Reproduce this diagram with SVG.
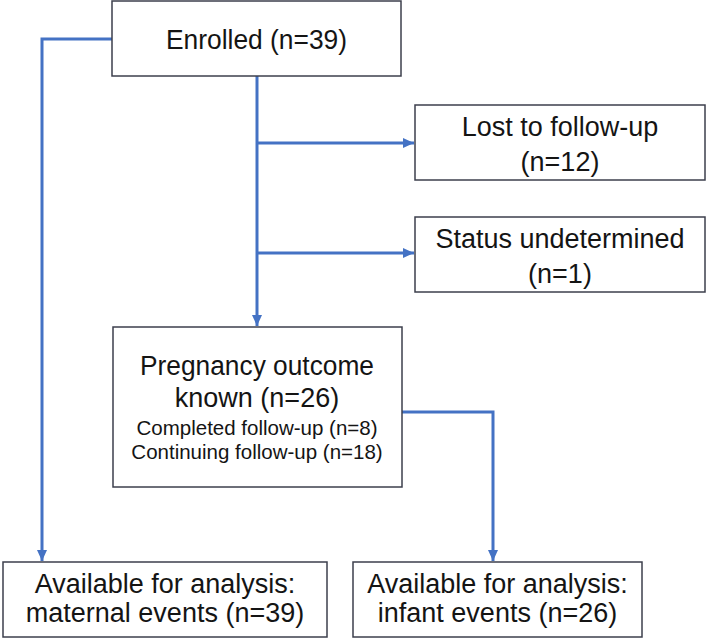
<svg xmlns="http://www.w3.org/2000/svg" width="707" height="640" viewBox="0 0 707 640">
<style>
.box{fill:#ffffff;stroke:#3c3f4c;stroke-width:1.5}
.t{font-family:"Liberation Sans",Arial,sans-serif;font-size:27px;fill:#141414;text-anchor:middle}
.s{font-family:"Liberation Sans",Arial,sans-serif;font-size:20.5px;fill:#141414;text-anchor:middle}
.c{fill:none;stroke:#4472C4;stroke-width:3}
</style>
<defs>
<marker id="arr" markerUnits="userSpaceOnUse" markerWidth="11" markerHeight="10" refX="11" refY="5" orient="auto">
<path d="M0,0 L11,5 L0,10 z" fill="#4472C4"/>
</marker>
</defs>
<rect width="707" height="640" fill="#ffffff"/>
<g id="connectors">
<path class="c" d="M112,39 H42 V561" marker-end="url(#arr)"/>
<path class="c" d="M257,76 V326" marker-end="url(#arr)"/>
<path class="c" d="M257,143 H414" marker-end="url(#arr)"/>
<path class="c" d="M257,253 H414" marker-end="url(#arr)"/>
<path class="c" d="M402,412 H493 V561" marker-end="url(#arr)"/>
</g>
<g id="enrolled">
<rect class="box" x="112" y="1" width="289" height="75"/>
<text class="t" x="256.5" y="49" textLength="181" lengthAdjust="spacingAndGlyphs">Enrolled (n=39)</text>
</g>
<g id="lost">
<rect class="box" x="415" y="105" width="290" height="75"/>
<text class="t" x="560" y="136">Lost to follow-up</text>
<text class="t" x="560" y="171">(n=12)</text>
</g>
<g id="status">
<rect class="box" x="415" y="217" width="290" height="75"/>
<text class="t" x="560" y="248">Status undetermined</text>
<text class="t" x="560" y="283">(n=1)</text>
</g>
<g id="pregnancy">
<rect class="box" x="113" y="327" width="289" height="160"/>
<text class="t" x="257" y="375" textLength="234" lengthAdjust="spacingAndGlyphs">Pregnancy outcome</text>
<text class="t" x="257" y="407">known (n=26)</text>
<text class="s" x="257" y="435">Completed follow-up (n=8)</text>
<text class="s" x="257" y="459">Continuing follow-up (n=18)</text>
</g>
<g id="maternal">
<rect class="box" x="3" y="562" width="324" height="75"/>
<text class="t" x="165" y="593">Available for analysis:</text>
<text class="t" x="165" y="622">maternal events (n=39)</text>
</g>
<g id="infant">
<rect class="box" x="353" y="562" width="289" height="75"/>
<text class="t" x="497.5" y="593">Available for analysis:</text>
<text class="t" x="497.5" y="622">infant events (n=26)</text>
</g>
</svg>
